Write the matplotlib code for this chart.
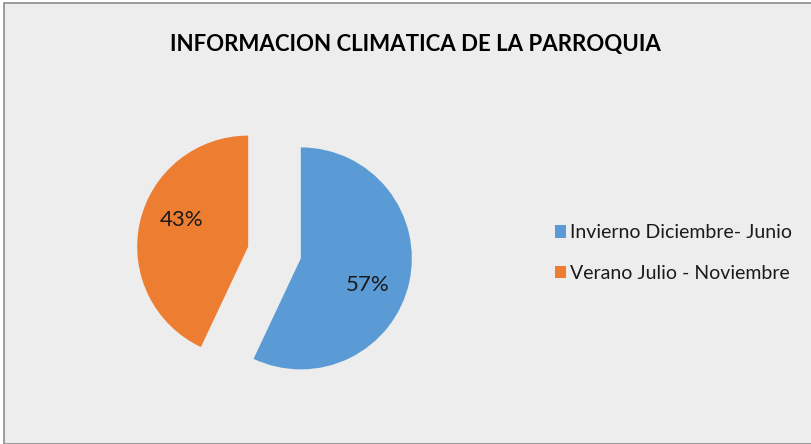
import numpy as np
import matplotlib.pyplot as plt
from matplotlib.patches import Rectangle

# datos
labels = ['Invierno Diciembre- Junio', 'Verano Julio - Noviembre']
values = [57, 43]
colors = ['#5B9BD5', '#ED7D31']

plt.rcParams['font.family'] = ['Lato', 'DejaVu Sans']

W, H = 811, 444
fig = plt.figure(figsize=(W / 100, H / 100), dpi=100)
fig.patch.set_facecolor('white')

# fondo con borde, como en excel
fig.patches.append(Rectangle((4 / W, 0), 1, (H - 3) / H, transform=fig.transFigure,
                             facecolor='#EDEDED', edgecolor='#8C8C8C', linewidth=1.2,
                             zorder=-5))

# pie centrado a mano
size = 300
cx, cy = 274.5, H - 252.5
ax = fig.add_axes([(cx - size / 2) / W, (cy - size / 2) / H, size / W, size / H])
ax.set_zorder(2)
wedges, texts, autotexts = ax.pie(values, colors=colors, startangle=90, counterclock=False,
                                  explode=[0.243, 0.243], autopct='%1.0f%%', pctdistance=0.68,
                                  radius=1, textprops={'fontsize': 16, 'color': '#1a1a1a'})
# excel pone las etiquetas un poco giradas
for w, t in zip(wedges, autotexts):
    ang = np.deg2rad((w.theta1 + w.theta2) / 2 - 9)
    x0, y0 = w.center
    t.set_position((x0 + 0.65 * np.cos(ang), y0 + 0.65 * np.sin(ang)))
lim = size / 2 / 111
ax.set_xlim(-lim, lim)
ax.set_ylim(-lim, lim)
ax.set_aspect('equal')
ax.axis('off')

fig.text(415 / W, 1 - 45 / H, 'INFORMACION CLIMATICA DE LA PARROQUIA', ha='center', va='center',
         fontsize=16, fontweight='bold', color='black')

leg = fig.legend(wedges, labels, loc='center left', bbox_to_anchor=(537 / W, 1 - 253 / H),
                 frameon=False, fontsize=14, handlelength=0.6, handleheight=0.6,
                 handletextpad=0.2, labelspacing=1.2)
for t in leg.get_texts():
    t.set_color('#1a1a1a')

fig.savefig('out.png', dpi=100)
